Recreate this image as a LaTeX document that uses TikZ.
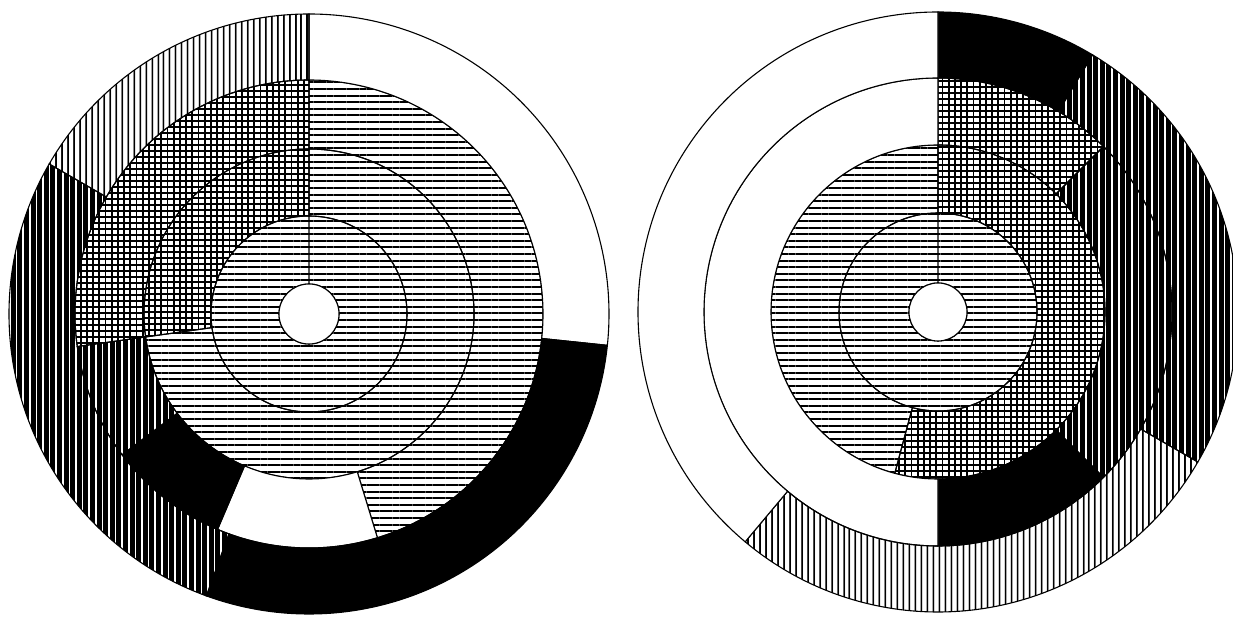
\documentclass[tikz,border=0pt]{standalone}
\usetikzlibrary{patterns.meta}
\tikzset{
  hl/.style={pattern={Lines[angle=0,distance=6.6pt,line width=2.0pt]}},
  vlight/.style={pattern={Lines[angle=90,distance=6.4pt,line width=2.0pt]}},
  vdark/.style={pattern={Lines[angle=90,distance=6.6pt,line width=5.0pt]}},
  cross/.style={pattern={Lines[angle=0,distance=6.4pt,line width=1.8pt]},
                postaction={pattern={Lines[angle=90,distance=6.2pt,line width=1.8pt]}}},
  solidblack/.style={fill=black},
  blank/.style={fill=white},
}
% annular sector: centre x, centre y, inner r, outer r, start, end (degrees clockwise from top), style
\newcommand\annsec[7]{%
  \path[draw=black,line width=1.1pt,#7]
    ({#1+#4*cos(90-#5)},{#2+#4*sin(90-#5)})
      arc[start angle={90-#5},end angle={90-#6},radius=#4pt]
    -- ({#1+#3*cos(90-#6)},{#2+#3*sin(90-#6)})
      arc[start angle={90-#6},end angle={90-#5},radius=#3pt]
    -- cycle;}
\begin{document}
\begin{tikzpicture}[x=1pt,y=1pt]
\useasboundingbox (0,0) rectangle (1233,617);
\clip (0,0) rectangle (1233,617);
\fill[white] (0,0) rectangle (1233,617);
% ---------- left chart ----------
\annsec{309}{303}{30}{98}{0}{360}{hl}
\annsec{309}{303}{98}{165}{0}{262}{hl}
\annsec{309}{303}{98}{165}{262}{360}{cross}
\annsec{309}{303}{165}{234}{0}{163}{hl}
\annsec{309}{303}{165}{234}{163}{203}{blank}
\annsec{309}{303}{165}{234}{203}{233}{solidblack}
\annsec{309}{303}{165}{234}{233}{262}{vdark}
\annsec{309}{303}{165}{234}{262}{360}{cross}
\annsec{309}{303}{234}{300}{0}{96}{blank}
\annsec{309}{303}{234}{300}{96}{200}{solidblack}
\annsec{309}{303}{234}{300}{200}{300}{vdark}
\annsec{309}{303}{234}{300}{300}{360}{vlight}
\draw[line width=1.1pt,fill=white] (309,303) circle[radius=30pt];
% ---------- right chart ----------
\annsec{938}{305}{29}{99}{0}{360}{hl}
\annsec{938}{305}{99}{167}{0}{195}{cross}
\annsec{938}{305}{99}{167}{195}{360}{hl}
\annsec{938}{305}{167}{234}{0}{45}{cross}
\annsec{938}{305}{167}{234}{45}{135}{vdark}
\annsec{938}{305}{167}{234}{135}{180}{solidblack}
\annsec{938}{305}{167}{234}{180}{360}{blank}
\annsec{938}{305}{234}{300}{0}{31}{solidblack}
\annsec{938}{305}{234}{300}{31}{120}{vdark}
\annsec{938}{305}{234}{300}{120}{220}{vlight}
\annsec{938}{305}{234}{300}{220}{360}{blank}
\draw[line width=1.1pt,fill=white] (938,305) circle[radius=29pt];
\end{tikzpicture}
\end{document}
